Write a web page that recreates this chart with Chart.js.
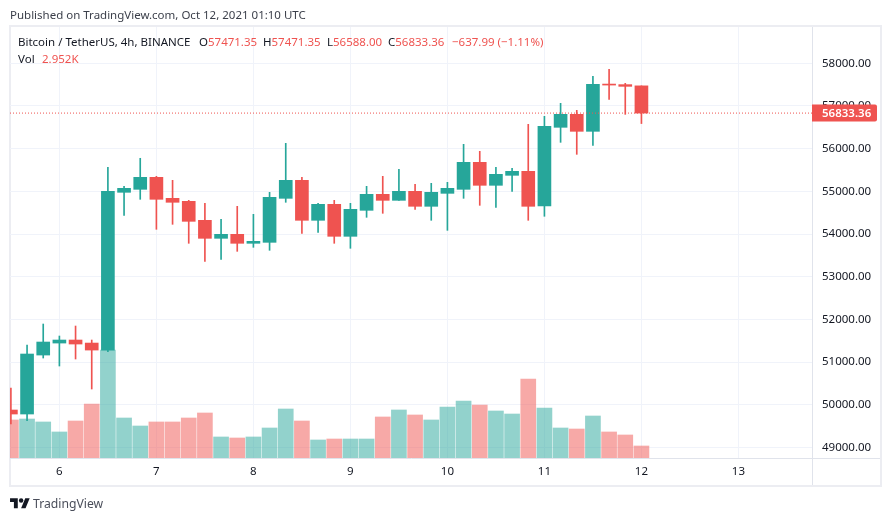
<!DOCTYPE html>
<html>
<head>
<meta charset="utf-8">
<title>BTCUSDT 4h</title>
<script src="https://cdn.jsdelivr.net/npm/chart.js@4/dist/chart.umd.min.js"></script>
<style>
html, body { margin: 0; padding: 0; background: #fff; overflow: hidden; }
body { width: 892px; height: 521px; position: relative; font-family: "Noto Sans", sans-serif; font-size: 11.5px; color: #131722; }
canvas { position: absolute; left: 0; top: 0; }
.txt { position: absolute; white-space: pre; line-height: 16px; }
.up { color: #ef5350; }
#frame { position: absolute; left: 9px; top: 25px; width: 869px; height: 458px; border: 2px solid #ecedf2; }
#logoText { font-size: 12.2px; color: #4a4e5a; }
</style>
</head>
<body>
<div id="frame"></div>
<canvas id="chart" width="892" height="521"></canvas>
<div class="txt" style="left:10px;top:7px;color:#3b3f4a">Published on TradingView.com, Oct 12, 2021 01:10 UTC</div>
<div class="txt" style="left:18px;top:34px">Bitcoin / TetherUS, 4h, BINANCE</div>
<div class="txt" style="left:199px;top:34px">O<span class="up">57471.35</span></div>
<div class="txt" style="left:263px;top:34px">H<span class="up">57471.35</span></div>
<div class="txt" style="left:327px;top:34px">L<span class="up">56588.00</span></div>
<div class="txt" style="left:388px;top:34px">C<span class="up">56833.36</span></div>
<div class="txt up" style="left:452px;top:34px">−637.99 (−1.11%)</div>
<div class="txt" style="left:18px;top:51px">Vol</div>
<div class="txt up" style="left:42px;top:51px">2.952K</div>
<svg style="position:absolute;left:10px;top:496px" width="20" height="15.5" viewBox="0 0 36 28" fill="#131722">
  <path d="M14 22H7V11H0V4h14v18zM28 22h-8l7.5-18h8L28 22z"/><circle cx="20" cy="8" r="4"/>
</svg>
<div class="txt" id="logoText" style="left:33px;top:496px">TradingView</div>

<script>
// Candle times, hours after Oct 6 00:00
const candleHours = [-12, -8, -4, 0, 4, 8, 12, 16, 20, 24, 28, 32, 36, 40, 44, 48, 52, 56, 60, 64, 68, 72, 76, 80, 84, 88, 92, 96, 100, 104, 108, 112, 116, 120, 124, 128, 132, 136, 140, 144];

const opens = [49876, 49782, 51164, 51445, 51516, 51445, 51281, 54977, 55047, 55328, 54836, 54766, 54321, 53899, 53993, 53782, 53805, 54836, 55258, 54321, 54696, 53946, 54555, 54930, 54789, 55000, 54649, 54953, 55047, 55680, 55141, 55375, 55469, 54657, 56500, 56804, 56406, 57507, 57500, 57471.35];
const highs = [50391, 51399, 51891, 51610, 51844, 51516, 55563, 55117, 55774, 55352, 55258, 54789, 54719, 54344, 54649, 54461, 54977, 56125, 55328, 54719, 54789, 54719, 55117, 55352, 55516, 55164, 55188, 55211, 56102, 55938, 55563, 55539, 56570, 56758, 57062, 56898, 57695, 57859, 57531, 57471.35];
const lows = [49548, 49626, 51094, 50907, 51071, 50368, 51242, 54438, 54813, 54110, 54227, 53782, 53360, 53407, 53594, 53688, 53618, 54743, 54016, 54040, 53782, 53665, 54391, 54485, 54789, 54578, 54321, 54086, 54836, 54672, 54625, 55000, 54321, 54415, 56148, 55867, 56078, 57156, 56804, 56588];
const closes = [49782, 51188, 51469, 51516, 51422, 51281, 55000, 55070, 55328, 54813, 54743, 54297, 53899, 53993, 53782, 53829, 54860, 55258, 54321, 54696, 53946, 54578, 54930, 54789, 55000, 54649, 54977, 55070, 55680, 55141, 55399, 55469, 54649, 56523, 56804, 56406, 57507, 57490, 57460, 56833.36];
// Volume in thousands
const volumes = [9.35, 9.59, 8.86, 6.40, 9.10, 13.28, 26.57, 9.84, 7.87, 8.86, 8.86, 9.84, 11.07, 5.17, 4.92, 5.17, 7.38, 12.05, 9.10, 4.43, 4.67, 4.67, 4.67, 10.09, 11.81, 10.58, 9.35, 12.55, 14.02, 13.04, 11.56, 10.82, 19.43, 12.30, 7.38, 7.13, 10.33, 6.40, 5.66, 2.952];

const priceTicks = [49000, 50000, 51000, 52000, 53000, 54000, 55000, 56000, 57000, 58000];
const dayTicks = [0, 24, 48, 72, 96, 120, 144, 168];

const lastPrice = closes[closes.length - 1];

const GREEN = '#26a69a';
const RED = '#ef5350';
const GREEN_VOL = 'rgba(38,166,154,0.5)';
const RED_VOL = 'rgba(239,83,80,0.5)';
const GRID = '#f0f3fa';
const AXIS_LINE = '#e0e3eb';
const FONT = '"Noto Sans", sans-serif';

const X_MIN = -12.22, X_MAX = 186.2;
const candleColors = candleHours.map((h, i) => closes[i] >= opens[i] ? GREEN : RED);
const volumeColors = candleHours.map((h, i) => closes[i] >= opens[i] ? GREEN_VOL : RED_VOL);

// Axis lines run on to the frame, price tag sits on the right axis
const axisExtras = {
    id: 'axisExtras',
    beforeDraw(chart) {
        const { ctx, chartArea } = chart;
        const right = Math.round(chartArea.right) + 0.5;
        const bottom = Math.round(chartArea.bottom) + 0.5;
        ctx.save();
        ctx.strokeStyle = AXIS_LINE;
        ctx.lineWidth = 1;
        ctx.beginPath();
        ctx.moveTo(right, bottom);
        ctx.lineTo(880, bottom);
        ctx.moveTo(right, bottom);
        ctx.lineTo(right, 485);
        ctx.stroke();
        ctx.restore();
    },
    afterDraw(chart) {
        const { ctx, scales } = chart;
        const y = scales.y.getPixelForValue(lastPrice);
        ctx.save();
        ctx.fillStyle = RED;
        ctx.beginPath();
        ctx.roundRect(scales.y.left, y - 8.5, 65, 17, [0, 2, 2, 0]);
        ctx.fill();
        ctx.fillStyle = '#fff';
        ctx.font = '600 11.5px ' + FONT;
        ctx.textBaseline = 'middle';
        ctx.fillText(lastPrice.toFixed(2), scales.y.left + 10, y + 0.5);
        ctx.restore();
    }
};

new Chart(document.getElementById('chart'), {
    data: {
        datasets: [
            {
                type: 'line', order: 0, yAxisID: 'y',
                data: [{ x: X_MIN, y: lastPrice }, { x: X_MAX, y: lastPrice }],
                borderColor: RED, borderWidth: 1, borderDash: [1, 2], pointRadius: 0
            },
            {
                type: 'bar', order: 1, yAxisID: 'y', grouped: false,
                data: candleHours.map((h, i) => ({ x: h, y: [opens[i], closes[i]] })),
                backgroundColor: candleColors, barThickness: 13, minBarLength: 1
            },
            {
                type: 'bar', order: 2, yAxisID: 'y', grouped: false,
                data: candleHours.map((h, i) => ({ x: h, y: [lows[i], highs[i]] })),
                backgroundColor: candleColors, barThickness: 1
            },
            {
                type: 'bar', order: 3, yAxisID: 'vol', grouped: false,
                data: candleHours.map((h, i) => ({ x: h, y: volumes[i] })),
                backgroundColor: volumeColors, barThickness: 15
            }
        ]
    },
    options: {
        responsive: false,
        animation: false,
        layout: { padding: { left: 10, top: 27, right: 12, bottom: 35 } },
        plugins: { legend: { display: false }, tooltip: { enabled: false } },
        scales: {
            x: {
                type: 'linear', min: X_MIN, max: X_MAX, offset: false,
                afterFit(axis) { axis.height = 28; },
                afterBuildTicks(axis) { axis.ticks = dayTicks.map(value => ({ value })); },
                grid: { color: GRID, drawTicks: false, offset: false },
                border: { color: AXIS_LINE },
                ticks: {
                    autoSkip: false, maxRotation: 0, padding: 7,
                    color: '#131722', font: { family: FONT, size: 11.5 },
                    callback: v => 6 + v / 24
                }
            },
            y: {
                position: 'right', min: 48751.6, max: 58850.5,
                afterFit(axis) { axis.width = 68; },
                afterBuildTicks(axis) { axis.ticks = priceTicks.map(value => ({ value })); },
                grid: { color: GRID, drawTicks: false },
                border: { color: AXIS_LINE },
                ticks: {
                    padding: 10,
                    color: '#131722', font: { family: FONT, size: 11.5 },
                    callback: v => v.toFixed(2)
                }
            },
            vol: { display: false, min: 0, max: 106 }
        }
    },
    plugins: [axisExtras]
});
</script>
</body>
</html>
